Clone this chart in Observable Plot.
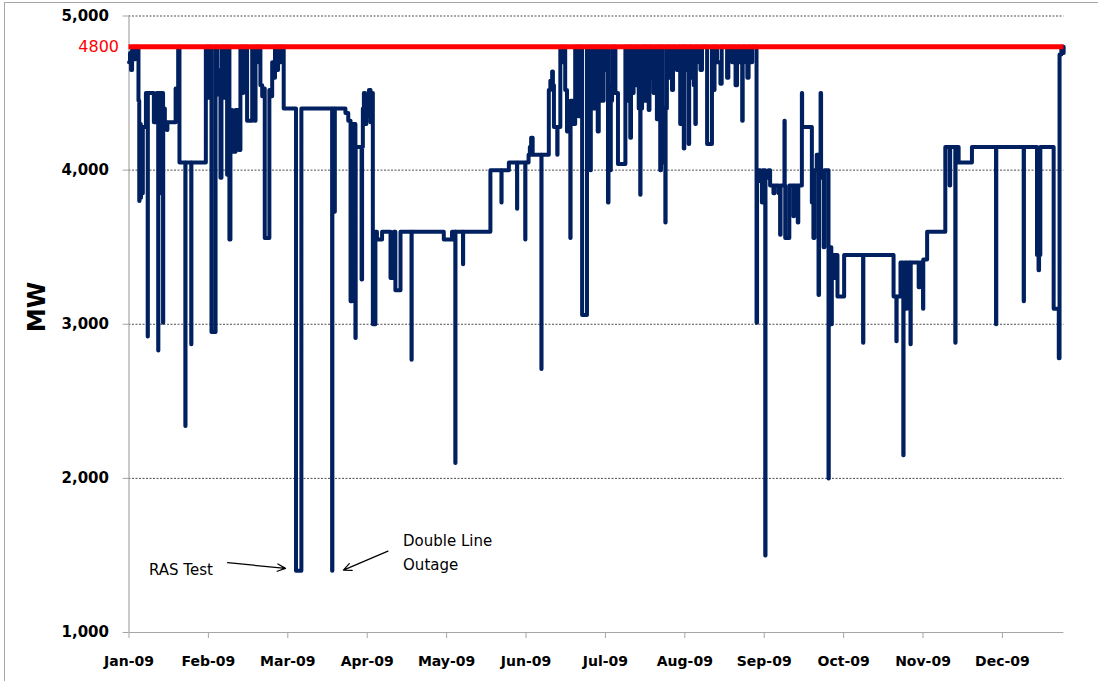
<!DOCTYPE html>
<html>
<head>
<meta charset="utf-8">
<script src="https://cdn.jsdelivr.net/npm/d3@7"></script>
<script src="https://cdn.jsdelivr.net/npm/@observablehq/plot@0.6"></script>
<style>
  html, body { margin: 0; padding: 0; background: #fff; }
  #wrap { position: relative; width: 1098px; height: 681px; overflow: hidden; }
  #frame { position: absolute; left: 3.5px; top: 1.5px; width: 1200px; height: 800px;
           border-top: 1.5px solid #a6a6a6; border-left: 1.5px solid #a6a6a6; pointer-events: none; }
  #chart { position: absolute; left: 0; top: 0; }
</style>
</head>
<body>
<div id="wrap"><div id="chart"></div><div id="frame"></div></div>
<script>
// Hourly transfer capability (MW), read as step levels: [day offset from 1 Jan 2009, MW]
const janMar = [
  [0,4700],[0.4,4760],[0.8,4650],[1.2,4780],[1.6,4800],[2.2,4720],[2.6,4800],[3.0,4760],[3.4,4800],
  [3.7,4450],[4.0,3800],[4.1,4300],[4.6,3820],[4.7,4280],[5.3,3850],[5.4,4280],[6.6,4500],[7.3,2920],
  [7.36,4500],[9.7,4310],[10.8,4500],[11.4,2830],[11.46,4500],[12.1,3850],[12.2,4500],[13.3,3010],
  [13.36,4400],[14.0,4310],[14.8,4260],[15.0,4310],[18.2,4530],[19.2,4800],[19.7,4050],[22.0,2340],
  [22.06,4050],[24.3,2870],[24.36,4050],[30.0,4800],[31.0,4470],[31.3,4800],[31.7,4600],[32.0,4800],
  [32.2,2950],[33.8,4800],[34.4,4650],[35.1,4490],[35.7,3950],[36.1,4800],[37.0,4470],[37.4,4800],
  [38.3,3970],[38.8,4800],[39.2,3550],[39.6,4390],[40.3,4120],[41.6,4390],[42.9,4130],[43.5,4800],
  [44.2,4500],[44.6,4800],[45.3,4600],[45.7,4800],[46.1,4320],[48.1,4800],[48.7,4600],[49.1,4320],
  [49.4,4800],[50.5,4700],[51.0,4800],[51.3,4550],[52.0,4480],[52.5,4530],[53.0,3560],[54.8,4520],
  [55.5,4480],[55.9,4700],[56.5,4600],[57.0,4800],[57.8,4650],[58.2,4800],[58.8,4700],[59.3,4800],
  [60.4,4400],[65.2,1400],[67.3,4400],[79.3,1400],[79.4,4400],[80.3,3730],[80.36,4400],[84.5,4370],
  [85.6,4320],[86.5,3150],[87.1,4300],[88.4,2910],[88.5,4150],[90.8,3290]
];
const aprJun = [
  [91.0,4150],[91.3,4400],[91.7,4500],[92.2,4300],[92.7,4480],[93.2,4350],[93.7,4520],[94.3,4310],
  [94.8,4500],[95.2,3000],[96.2,3600],[96.8,3550],[98.8,3600],[102.1,3300],[103.4,3600],[104.0,3220],
  [106.0,3600],[110.3,2770],[110.36,3600],[122.9,3550],[126.1,3600],[127.4,2100],[127.46,3600],
  [130.4,3390],[130.46,3600],[141.1,4000],[145.4,3790],[145.46,4000],[148.3,4050],[151.5,3750],
  [151.56,4050],[154.7,3550],[154.76,4050],[156.0,4100],[156.5,4150],[157.0,4210],[157.6,4100],
  [161.0,2710],[161.06,4100],[163.9,4520],[164.5,4580],[165.2,4640],[165.5,4550],[165.9,4280],
  [167.2,4100],[167.3,4280],[168.4,4800],[169.1,4700],[169.6,4800],[170.3,4520],[171.0,4250],
  [172.3,3560],[172.4,4450],[173.6,4300],[174.2,4800],[175.5,4350],[175.9,4800],[176.9,3060],
  [178.8,4800],[179.4,4400],[180.1,4000],[180.3,4800],[181.4,4400],[181.8,4800]
];
const julSep = [
  [182.1,4470],[182.5,4800],[183.0,4250],[183.4,4800],[184.1,4700],[184.7,4450],[185.3,4800],
  [186.0,4650],[186.6,4800],[187.0,3790],[187.2,4550],[187.9,4000],[188.1,4450],[188.6,4800],
  [189.9,4500],[190.9,4040],[193.8,4800],[194.4,4450],[194.8,4800],[195.7,4210],[196.0,4800],
  [196.4,4500],[197.0,4800],[197.7,4550],[198.3,4800],[199.0,4400],[199.6,3840],[199.7,4400],
  [200.3,4800],[201.6,4450],[201.9,4800],[202.9,4390],[203.2,4800],[204.2,4600],[204.8,4500],
  [205.4,4800],[206.1,4330],[206.5,4800],[207.4,4000],[207.7,4800],[208.4,4350],[209.0,4050],
  [209.4,3660],[209.5,4400],[210.0,4800],[211.3,4600],[212.0,4520],[212.4,4800],[213.2,4700],
  [213.9,4650],[214.5,4800],[215.2,4300],[215.6,4800],[216.6,4140],[216.8,4800],[217.8,4650],
  [218.5,4170],[218.7,4800],[219.9,4600],[220.5,4550],[221.1,4300],[221.3,4800],[222.4,4700],
  [223.1,4650],[223.7,4800],[225.7,4170],[227.6,4800],[228.3,4520],[228.6,4800],[229.6,4700],
  [230.9,4560],[231.4,4800],[233.5,4600],[234.0,4800],[235.5,4700],[236.0,4800],[236.8,4550],
  [237.4,4800],[238.4,4700],[239.4,4320],[239.6,4800],[240.7,4700],[241.4,4600],[241.9,4800],
  [242.7,4700],[243.3,4800],[245.0,3010],[245.2,4000],[246.5,3930],[247.1,3790],[247.4,4000],
  [248.4,1500],[248.5,3950],[249.7,4000],[250.3,3900],[251.6,3850],[252.0,3900],[253.6,3850],
  [254.2,3580],[254.4,3900],[255.9,4320],[256.0,3900],[256.2,3560],[257.8,3900],[259.4,3700],
  [259.6,3900],[261.1,3660],[261.3,3900],[262.7,4500],[262.8,4280],[266.6,3790],[267.2,3560],
  [267.6,4000],[268.5,4100],[269.2,3190],[269.4,4000],[270.0,4500],[270.2,3950],[271.2,3500],
  [271.5,4000],[273.1,2000],[273.2,3400]
];
const octDec = [
  [273.8,3500],[274.2,3000],[274.4,3450],[275.3,3300],[275.6,3450],[276.6,3180],[279.2,3450],
  [286.6,2880],[286.7,3450],[298.5,3180],[299.6,2890],[299.7,3180],[301.2,3400],[302.3,2150],
  [302.4,3300],[302.8,3400],[303.5,3100],[303.7,3400],[305.1,2870],[305.2,3400],[308.3,3240],
  [308.8,3400],[310.0,3100],[310.1,3420],[311.6,3600],[318.7,4150],[320.4,3900],[320.6,4150],
  [322.6,2880],[322.7,4150],[323.9,4050],[329.1,4150],[338.5,3000],[338.6,4150],[349.3,3150],
  [349.4,4150],[354.5,3450],[355.1,3350],[355.3,3450],[355.8,4150],[361.0,3100],[363.0,2780],
  [363.3,4750],[364.0,4800],[364.9,4760]
];

const limitMW = 4800;
const yTicks = [1000, 2000, 3000, 4000, 5000];
const gridMW = [2000, 3000, 4000, 5000];
const tickDays = [0, 31, 62, 93, 124, 155, 186, 217, 248, 279, 310, 341]; // labelled Jan-09 ... Dec-09
const noteText = ["RAS Test", "Double Line\nOutage"];
const noteDay = [7.8, 107.0];
const noteMW = [1420, 1532];
const arrowFrom = [[38.5, 1453], [101.1, 1528]];
const arrowTo = [[61.1, 1416], [83.7, 1405]];

const t0 = Date.UTC(2009, 0, 1);
const toDate = d => new Date(t0 + d * 864e5);

const series = [...janMar, ...aprJun, ...julSep, ...octDec].map(([d, v]) => ({date: toDate(d), mw: v}));
const notes = noteText.map((t, i) => ({date: toDate(noteDay[i]), mw: noteMW[i], text: t}));
const arrows = arrowFrom.map((f, i) => ({x1: toDate(f[0]), y1: f[1], x2: toDate(arrowTo[i][0]), y2: arrowTo[i][1]}));
const fmt = d3.utcFormat("%b-%y");

const chart = Plot.plot({
  width: 1098,
  height: 681,
  marginLeft: 128.5,
  marginRight: 34.6,
  marginTop: 15.5,
  marginBottom: 49,
  style: {fontFamily: "DejaVu Sans", background: "transparent", overflow: "visible"},
  x: {type: "utc", domain: [toDate(0), toDate(365)]},
  y: {domain: [1000, 5000]},
  marks: [
    Plot.ruleY(gridMW, {stroke: "#000", strokeWidth: 0.7, strokeDasharray: "2,1.5"}),
    Plot.ruleX([toDate(0)], {stroke: "#a6a6a6", strokeWidth: 1.2}),
    Plot.ruleY([1000], {stroke: "#a6a6a6", strokeWidth: 1.2}),
    Plot.axisY({ticks: yTicks, tickSize: 6, tickPadding: 14, tickFormat: d3.format(","),
      stroke: "#a6a6a6", fill: "#000", fontSize: 15, fontWeight: "bold", label: null}),
    Plot.axisY({ticks: [limitMW], tickSize: 0, tickPadding: 10, tickFormat: d => String(d),
      fill: "#ff0000", fontSize: 16, label: null}),
    Plot.axisX({ticks: tickDays.map(toDate), tickSize: 6, tickPadding: 18, tickFormat: fmt,
      stroke: "#a6a6a6", fill: "#000", fontSize: 14, fontWeight: "bold", label: null}),
    Plot.line(series, {x: "date", y: "mw", curve: "step-after", stroke: "#002060", strokeWidth: 4}),
    Plot.ruleY([limitMW], {stroke: "#ff0000", strokeWidth: 5}),
    Plot.arrow(arrows, {x1: "x1", y1: "y1", x2: "x2", y2: "y2", stroke: "#000", strokeWidth: 1.2, headLength: 11, headAngle: 50}),
    Plot.text(notes, {x: "date", y: "mw", text: "text", textAnchor: "start", lineAnchor: "middle",
      lineHeight: 1.55, fontSize: 15, fill: "#000"}),
    Plot.text(["MW"], {text: d => d, frameAnchor: "left", dx: -92, dy: 8, rotate: -90, fontSize: 24, fontWeight: "bold", fill: "#000"})
  ]
});
document.getElementById("chart").appendChild(chart);
</script>
</body>
</html>
